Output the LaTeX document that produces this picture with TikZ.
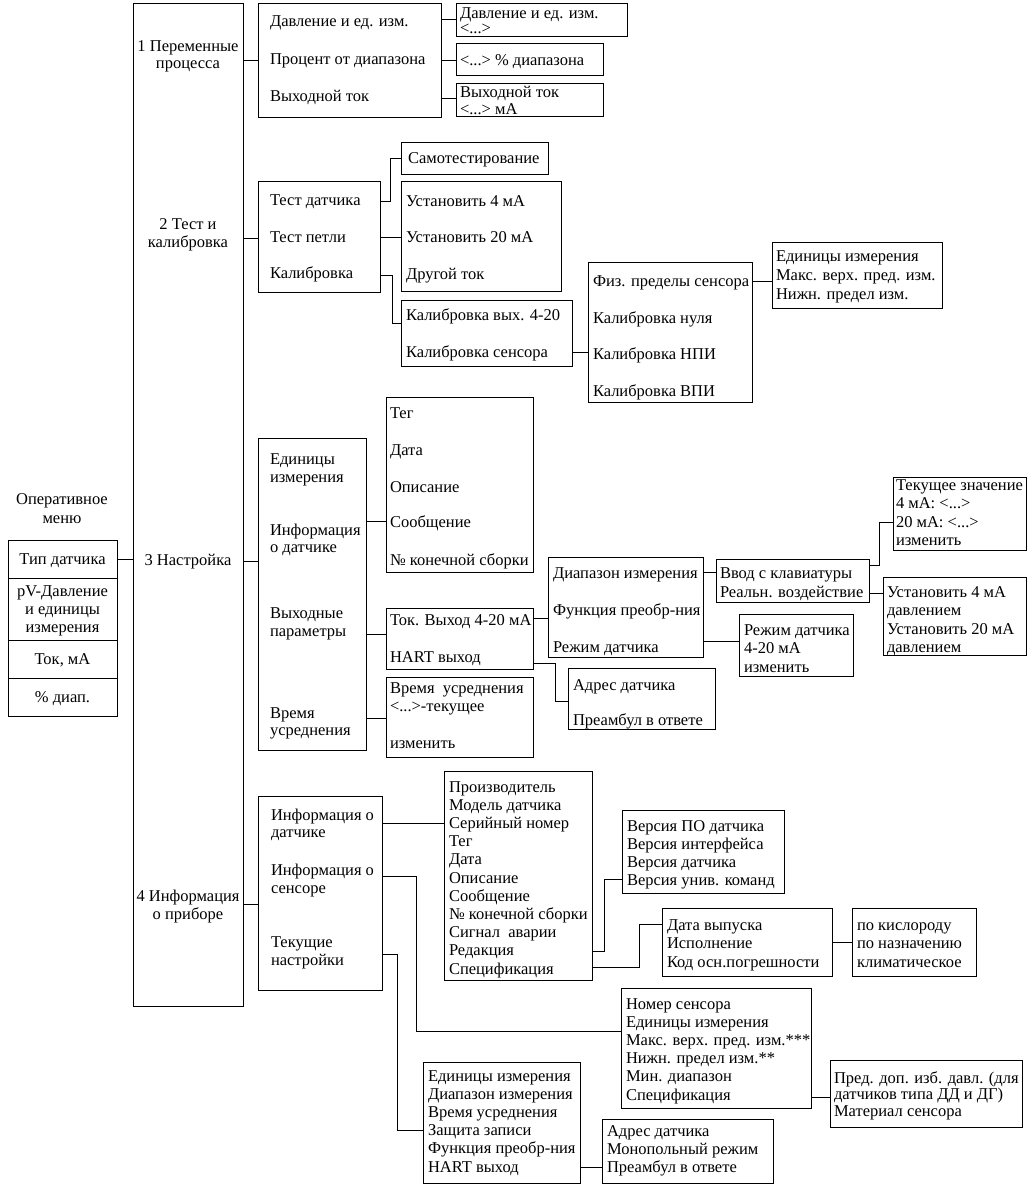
\documentclass[tikz,border=0pt]{standalone}
\usepackage{fontspec}
\setmainfont{Liberation Serif}
\newcommand\bx[5]{\node[boxst, minimum width={#4-#2}, minimum height={#5-#3}] (#1) at (#2,#3) {};}
\newcommand\tl[4]{\node[txt] (#1) at (#2,#3) {#4};}
\newcommand\tc[4]{\node[ctxt] (#1) at (#2,#3) {#4};}
\begin{document}
\begin{tikzpicture}[x=1pt,y=-1pt,
  boxst/.style={draw, line width=1pt, inner sep=0pt, outer sep=0pt, anchor=north west, rectangle},
  txt/.style={anchor=base west, inner sep=0pt, outer sep=0pt, font=\fontsize{16.5}{18}\selectfont},
  ctxt/.style={txt, anchor=base},
  conn/.style={line width=1pt}]
\fill[white] (0,0) rectangle (1035,1191);
\useasboundingbox (0,0) rectangle (1035,1191);

% ---- operative menu
\tc{om1}{62}{504}{Оперативное}
\tc{om2}{62}{523}{меню}
\bx{s1}{8}{540}{117}{578}
\bx{s2}{8}{578}{117}{640}
\bx{s3}{8}{640}{117}{678}
\bx{s4}{8}{678}{117}{716}
\tc{ts1}{62.5}{564}{Тип датчика}
\tc{ts2}{62.5}{596}{pV-Давление}
\tc{ts3}{62.5}{614}{и единицы}
\tc{ts4}{62.5}{632}{измерения}
\tc{ts5}{62.5}{664}{Ток, мА}
\tc{ts6}{62.5}{702}{\% диап.}

% ---- main column
\bx{M}{133}{3}{243}{1006}
\tc{m1}{188}{51}{1 Переменные}
\tc{m2}{188}{68}{процесса}
\tc{m3}{188}{229}{2 Тест и}
\tc{m4}{188}{247}{калибровка}
\tc{m5}{188}{565}{3 Настройка}
\tc{m6}{188}{901}{4 Информация}
\tc{m7}{188}{919}{о приборе}
\draw[conn] (s1.east) -- (M.west |- s1.east);

% ---- 1
\bx{A}{258}{3}{441}{117}
\tl{a1}{270}{27}{Давление и ед. изм.}
\tl{a2}{270}{64}{Процент от диапазона}
\tl{a3}{270}{101}{Выходной ток}
\bx{A1}{456}{3}{627}{36}
\tl{a11}{460}{18}{Давление и ед. изм.}
\tl{a12}{460}{33}{<...>}
\bx{A2}{456}{43}{603}{75}
\tl{a21}{460}{65}{<...> \% диапазона}
\bx{A3}{456}{83}{603}{116}
\tl{a31}{460}{97}{Выходной ток}
\tl{a32}{460}{114}{<...> мА}
\draw[conn] (M.east |- 0,60) -- (A.west |- 0,60);
\draw[conn] (A.east |- 0,19) -- (A1.west |- 0,19);
\draw[conn] (A.east |- 0,60) -- (A2.west |- 0,60);
\draw[conn] (A.east |- 0,98) -- (A3.west |- 0,98);

% ---- 2
\bx{B}{258}{181}{380}{292}
\tl{b1}{270}{205}{Тест датчика}
\tl{b2}{270}{242}{Тест петли}
\tl{b3}{270}{278}{Калибровка}
\bx{Sam}{401}{142}{548}{174}
\tl{sa1}{408}{163}{Самотестирование}
\bx{Ust}{401}{181}{561}{291}
\tl{u1}{406}{206}{Установить 4 мА}
\tl{u2}{406}{242}{Установить 20 мА}
\tl{u3}{406}{279}{Другой ток}
\bx{Kv}{401}{300}{572}{366}
\tl{k1}{406}{320}{Калибровка вых. 4-20}
\tl{k2}{406}{357}{Калибровка сенсора}
\bx{Fiz}{588}{262}{752}{402}
\tl{f1}{593}{286}{Физ. пределы сенсора}
\tl{f2}{593}{323}{Калибровка нуля}
\tl{f3}{593}{359}{Калибровка НПИ}
\tl{f4}{593}{396}{Калибровка ВПИ}
\bx{Ed}{772}{242}{942}{308}
\tl{e1}{776}{261}{Единицы измерения}
\tl{e2}{776}{280}{Макс. верх. пред. изм.}
\tl{e3}{776}{299}{Нижн. предел изм.}
\draw[conn] (M.east |- 0,238) -- (B.west |- 0,238);
\draw[conn] (B.east |- 0,201) -- ++(10,0) |- (Sam.west);
\draw[conn] (B.east |- 0,237) -- (Ust.west |- 0,237);
\draw[conn] (B.east |- 0,275) -- ++(12,0) |- (Kv.west |- 0,323);
\draw[conn] (Kv.east |- 0,352) -- (Fiz.west |- 0,352);
\draw[conn] (Fiz.east |- 0,281) -- (Ed.west |- 0,281);

% ---- 3
\bx{C}{258}{438}{366}{750}
\tl{c1}{270}{464}{Единицы}
\tl{c2}{270}{482}{измерения}
\tl{c3}{270}{535}{Информация}
\tl{c4}{270}{552}{о датчике}
\tl{c5}{270}{618}{Выходные}
\tl{c6}{270}{636}{параметры}
\tl{c7}{270}{718}{Время}
\tl{c8}{270}{735}{усреднения}
\bx{Teg}{386}{397}{533}{572}
\tl{g1}{390}{418}{Тег}
\tl{g2}{390}{455}{Дата}
\tl{g3}{390}{492}{Описание}
\tl{g4}{390}{527}{Сообщение}
\tl{g5}{390}{565}{№ конечной сборки}
\bx{Tok}{386}{608}{533}{669}
\tl{o1}{390}{625}{Ток. Выход 4-20 мА}
\tl{o2}{390}{662}{HART выход}
\bx{Vr}{386}{677}{533}{757}
\tl{v1}{390}{693}{Время\ \ усреднения}
\tl{v2}{390}{711}{<...>-текущее}
\tl{v3}{390}{748}{изменить}
\bx{Diap}{548}{557}{703}{657}
\tl{d1}{553}{578}{Диапазон измерения}
\tl{d2}{553}{615}{Функция преобр-ния}
\tl{d3}{553}{652}{Режим датчика}
\bx{Adr}{568}{668}{715}{729}
\tl{r1}{573}{690}{Адрес датчика}
\tl{r2}{573}{725}{Преамбул в ответе}
\bx{Vvod}{716}{559}{869}{602}
\tl{w1}{720}{578}{Ввод с клавиатуры}
\tl{w2}{720}{597}{Реальн. воздействие}
\bx{Rej}{739}{614}{853}{676}
\tl{j1}{744}{635}{Режим датчика}
\tl{j2}{744}{653}{4-20 мА}
\tl{j3}{744}{672}{изменить}
\bx{Tek}{893}{477}{1026}{550}
\tl{t1}{896}{490}{Текущее значение}
\tl{t2}{896}{508}{4 мА: <...>}
\tl{t3}{896}{527}{20 мА: <...>}
\tl{t4}{896}{545}{изменить}
\bx{Us}{883}{577}{1026}{655}
\tl{z1}{887}{597}{Установить 4 мА}
\tl{z2}{887}{615}{давлением}
\tl{z3}{887}{634}{Установить 20 мА}
\tl{z4}{887}{652}{давлением}
\draw[conn] (M.east |- 0,561) -- (C.west |- 0,561);
\draw[conn] (C.east |- 0,521) -- (Teg.west |- 0,521);
\draw[conn] (C.east |- 0,634) -- (Tok.west |- 0,634);
\draw[conn] (C.east |- 0,718) -- (Vr.west |- 0,718);
\draw[conn] (Tok.east |- 0,618) -- (Diap.west |- 0,618);
\draw[conn] (Tok.east |- 0,663) -- ++(22,0) |- (Adr.west |- 0,701);
\draw[conn] (Diap.east |- 0,572) -- (Vvod.west |- 0,572);
\draw[conn] (Diap.east |- 0,641) -- (Rej.west |- 0,641);
\draw[conn] (Vvod.east |- 0,565) -- ++(10,0) |- (Tek.west |- 0,522);
\draw[conn] (Vvod.east |- 0,593) -- (Us.west |- 0,593);

% ---- 4
\bx{D}{258}{796}{382}{990}
\tl{n1}{271}{820}{Информация о}
\tl{n2}{271}{837}{датчике}
\tl{n3}{271}{875}{Информация о}
\tl{n4}{271}{893}{сенсоре}
\tl{n5}{271}{947}{Текущие}
\tl{n6}{271}{965}{настройки}
\bx{Pr}{444}{771}{592}{980}
\foreach \t [count=\i] in {Производитель, Модель датчика, Серийный номер, Тег, Дата, Описание, Сообщение, № конечной сборки, Сигнал\ \ аварии, Редакция, Спецификация}
  \node[txt] (p\i) at (449,{792+(\i-1)*18.2}) {\t};
\bx{Ver}{622}{810}{784}{893}
\foreach \t [count=\i] in {Версия ПО датчика, Версия интерфейса, Версия датчика, Версия унив. команд}
  \node[txt] (q\i) at (627,{831+(\i-1)*18.3}) {\t};
\bx{Dat}{662}{908}{832}{976}
\foreach \t [count=\i] in {Дата выпуска, Исполнение, Код осн.погрешности}
  \node[txt] (x\i) at (667,{930+(\i-1)*18.5}) {\t};
\bx{Kis}{852}{908}{976}{976}
\foreach \t [count=\i] in {по кислороду, по назначению, климатическое}
  \node[txt] (y\i) at (857,{930+(\i-1)*18.5}) {\t};
\bx{Nom}{621}{988}{811}{1108}
\foreach \t [count=\i] in {Номер сенсора, Единицы измерения, Макс. верх. пред. изм.***, Нижн. предел изм.**, Мин. диапазон, Спецификация}
  \node[txt] (h\i) at (626,{1009+(\i-1)*18.2}) {\t};
\bx{Pred}{830}{1060}{1022}{1127}
\foreach \t [count=\i] in {Пред. доп. изб. давл. (для, датчиков типа ДД и ДГ), Материал сенсора}
  \node[txt] (l\i) at (834,{1083+(\i-1)*16.5}) {\t};
\bx{Ed2}{423}{1062}{580}{1183}
\foreach \t [count=\i] in {Единицы измерения, Диапазон измерения, Время усреднения, Защита записи, Функция преобр-ния, HART выход}
  \node[txt] (k\i) at (428,{1081+(\i-1)*18.2}) {\t};
\bx{Ad2}{602}{1119}{773}{1183}
\foreach \t [count=\i] in {Адрес датчика, Монопольный режим, Преамбул в ответе}
  \node[txt] (a\i) at (607,{1136+(\i-1)*18}) {\t};
\draw[conn] (M.east |- 0,904) -- (D.west |- 0,904);
\draw[conn] (D.east |- 0,823) -- (Pr.west |- 0,823);
\draw[conn] (Pr.east |- 0,951) -- ++(12,0) |- (Ver.west |- 0,879);
\draw[conn] (Pr.east |- 0,967) -- ++(47,0) |- (Dat.west |- 0,924);
\draw[conn] (Dat.east |- 0,942) -- (Kis.west |- 0,942);
\draw[conn] (D.east |- 0,876) -- ++(34,0) |- (Nom.west |- 0,1031);
\draw[conn] (Nom.east |- 0,1097) -- (Pred.west |- 0,1097);
\draw[conn] (D.east |- 0,954) -- ++(15,0) |- (Ed2.west |- 0,1130);
\draw[conn] (Ed2.east |- 0,1167) -- (Ad2.west |- 0,1167);
\end{tikzpicture}
\end{document}
